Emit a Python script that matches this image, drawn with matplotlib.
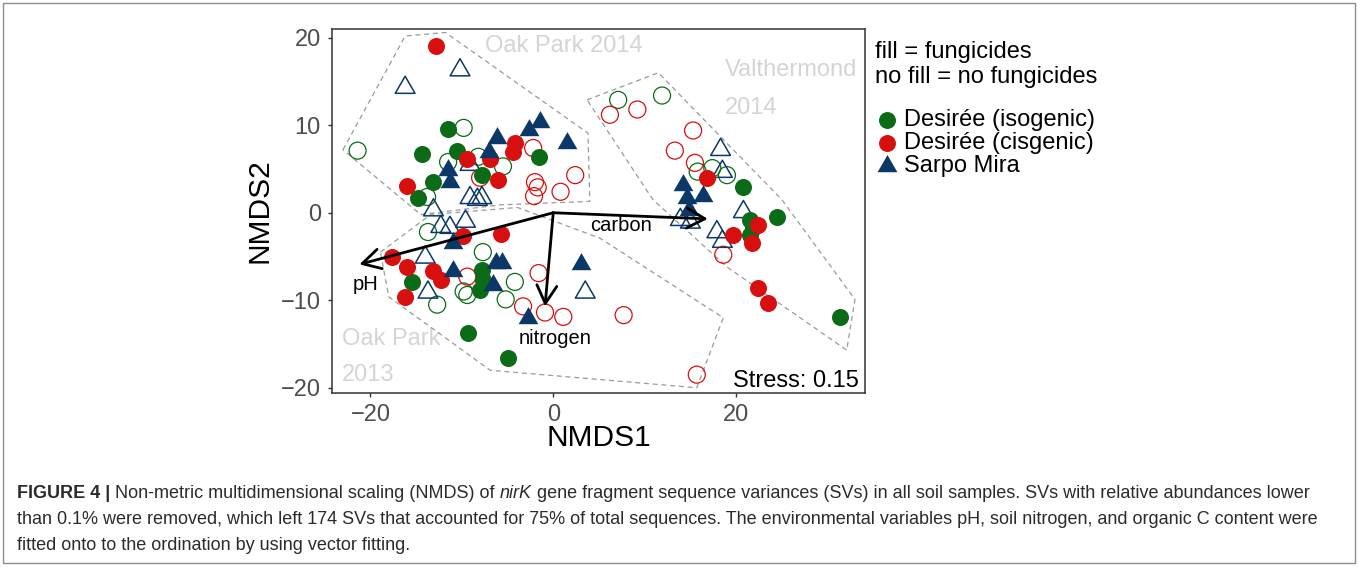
import matplotlib
matplotlib.use("Agg")
import matplotlib.pyplot as plt
from matplotlib import font_manager
from matplotlib.lines import Line2D
from matplotlib.patches import Polygon, Rectangle
from matplotlib.path import Path

# NMDS scores, split by cultivar and by treatment (fill = fungicides)
iso_fill_x = [-11.5, -14.4, -10.5, -13.2, -14.8, -7.8, -1.6, -15.5, -7.8, -7.7, -8.0, -9.3, -5.0,
              20.8, 21.5, 21.9, 21.5, 24.5, 31.4]
iso_fill_y = [9.6, 6.7, 7.1, 3.5, 1.7, 4.3, 6.4, -7.9, -6.5, -7.7, -8.8, -13.7, -16.6,
              2.9, -0.8, -1.7, -2.5, -0.5, -11.9]
iso_open_x = [-21.4, -9.8, -13.8, -11.5, -8.2, -5.5, -13.7, -12.7, -9.8, -9.4, -7.7, -4.2, -5.2,
              7.1, 11.9, 15.8, 17.4, 19.0]
iso_open_y = [7.1, 9.7, 1.8, 5.8, 6.4, 5.3, -2.2, -10.5, -9.0, -9.4, -4.5, -7.9, -9.9,
              12.9, 13.4, 4.7, 5.1, 4.3]

cis_fill_x = [-12.8, -16.0, -9.4, -6.9, -6.0, -4.2, -4.4, -9.9, -5.7, -17.6, -16.0, -16.2, -13.2,
              -12.3, 16.8, 19.7, 22.4, 21.7, 22.4, 23.5]
cis_fill_y = [19.1, 3.1, 6.1, 6.1, 3.8, 8.0, 6.9, -2.6, -2.4, -5.0, -6.2, -9.6, -6.7,
              -7.7, 4.0, -2.5, -1.4, -3.4, -8.6, -10.3]
cis_open_x = [-2.2, -2.0, -1.7, -2.1, 0.8, 2.4, -9.4, -1.6, -3.3, -0.9, 1.1, 7.7, 15.7,
              6.2, 9.2, 15.3, 13.3, 15.5, 18.6, -8.0]
cis_open_y = [7.4, 3.5, 2.9, 1.9, 2.4, 4.3, -7.3, -6.9, -10.7, -11.4, -11.9, -11.7, -18.5,
              11.2, 11.8, 9.4, 7.1, 5.7, -4.8, 4.0]

sarpo_fill_x = [-11.5, -11.3, -6.1, -7.0, -2.7, -1.4, 1.5, -11.0, -11.0, -6.3, -5.6, -6.6, -2.8,
                3.0, 14.2, 14.6, 14.8, 16.4]
sarpo_fill_y = [4.9, 3.5, 8.6, 7.0, 9.5, 10.4, 8.0, -3.4, -6.7, -5.7, -5.7, -8.2, -12.0,
                -5.9, 3.2, 1.7, 0.3, 1.9]
sarpo_open_x = [-10.2, -16.2, -9.1, -9.1, -8.3, -7.8, -13.1, -12.3, -11.3, -9.6, -14.0, -13.7,
                3.5, 18.3, 18.5, 20.8, 13.9, 15.0, 17.9, 18.5]
sarpo_open_y = [16.3, 14.3, 5.5, 1.7, 1.5, 1.7, 0.3, -1.6, -1.7, -1.0, -5.1, -9.1,
                -9.1, 7.2, 4.7, 0.1, -0.8, -1.1, -2.2, -3.3]

group_names = ["Desirée (isogenic)", "Desirée (cisgenic)", "Sarpo Mira"]
group_colors = ["#0b6b16", "#d80f0f", "#0c3868"]

# site hulls
hull_op14 = [(-23.0, 7.2), (-16.2, 20.2), (-11.8, 20.6), (3.8, 9.1), (4.0, 1.3), (-5.8, 0.9), (-14.5, -0.2)]
hull_op13 = [(-18.9, -4.5), (-13.4, -0.2), (-3.9, 0.6), (5.1, -2.9), (18.6, -12.0), (15.7, -20.0),
             (-6.9, -18.0), (-18.0, -9.6)]
hull_val14 = [(3.7, 12.9), (11.5, 16.0), (25.0, 1.5), (33.0, -9.9), (32.1, -15.7), (19.0, -6.2), (10.9, 1.5)]

# fitted environmental vectors
env_names = ["pH", "nitrogen", "carbon"]
env_x = [-21.2, -0.9, 16.9]
env_y = [-5.9, -10.7, -0.7]

stress = 0.15

caption_lines = [
    [("FIGURE 4 |", "bold", "normal"),
     ("Non-metric multidimensional scaling (NMDS) of", "normal", "normal"),
     ("nirK", "normal", "italic"),
     ("gene fragment sequence variances (SVs) in all soil samples. SVs with relative abundances lower",
      "normal", "normal")],
    [("than 0.1% were removed, which left 174 SVs that accounted for 75% of total sequences. "
      "The environmental variables pH, soil nitrogen, and organic C content were", "normal", "normal")],
    [("fitted onto to the ordination by using vector fitting.", "normal", "normal")],
]

plt.rcParams['font.family'] = ['Liberation Sans', 'DejaVu Sans']

W, H = 1358, 567
fig = plt.figure(figsize=(W / 100, H / 100), dpi=100)

def fx(px):
    return px / W

def fy(py):
    return 1 - py / H

ax = fig.add_axes([fx(332), fy(393), fx(865) - fx(332), fy(29) - fy(393)])
ax.set_xlim(-24.2, 34.1)
ax.set_ylim(-20.6, 21.0)

# equilateral triangle like ggplot's shape 17/2
tri = Path([(0, 1), (-0.866, -0.5), (0.866, -0.5), (0, 1)],
           [Path.MOVETO, Path.LINETO, Path.LINETO, Path.CLOSEPOLY])

for hull in [hull_op14, hull_op13, hull_val14]:
    ax.add_patch(Polygon(hull, closed=True, fill=False, ec="#9a9a9a", lw=0.9,
                         ls=(0, (4, 3)), zorder=1))

circ_s = 150
tri_s = 270
ax.scatter(iso_open_x, iso_open_y, s=circ_s, facecolors="none", edgecolors=group_colors[0], linewidths=0.9, zorder=2)
ax.scatter(cis_open_x, cis_open_y, s=circ_s, facecolors="none", edgecolors=group_colors[1], linewidths=0.9, zorder=2)
ax.scatter(sarpo_open_x, sarpo_open_y, s=tri_s, marker=tri, facecolors="none", edgecolors=group_colors[2], linewidths=1.1, zorder=2)
ax.scatter(iso_fill_x, iso_fill_y, s=circ_s, color=group_colors[0], linewidths=0, zorder=3)
ax.scatter(cis_fill_x, cis_fill_y, s=circ_s, color=group_colors[1], linewidths=0, zorder=3)
ax.scatter(sarpo_fill_x, sarpo_fill_y, s=tri_s, marker=tri, color=group_colors[2], linewidths=0, zorder=3)

for name, vx, vy in zip(env_names, env_x, env_y):
    ax.annotate("", xy=(vx, vy), xytext=(0, 0),
                arrowprops=dict(arrowstyle="->,head_length=0.65,head_width=0.36", color="black",
                                lw=2.0, shrinkA=0, shrinkB=0, mutation_scale=20), zorder=4)

ax.text(-20.5, -8.2, env_names[0], fontsize=14.5, ha="center", va="center", zorder=5)
ax.text(0.2, -14.4, env_names[1], fontsize=14.5, ha="center", va="center", zorder=5)
ax.text(7.4, -1.5, env_names[2], fontsize=14.5, ha="center", va="center", zorder=5)

site_col = "#d4d4d4"
ax.text(-7.5, 19.1, "Oak Park 2014", fontsize=17, color=site_col, va="center", zorder=0)
ax.text(18.8, 16.3, "Valthermond", fontsize=17, color=site_col, va="center", zorder=0)
ax.text(18.8, 12.0, "2014", fontsize=17, color=site_col, va="center", zorder=0)
ax.text(-23.1, -14.4, "Oak Park", fontsize=17, color=site_col, va="center", zorder=0)
ax.text(-23.1, -18.5, "2013", fontsize=17, color=site_col, va="center", zorder=0)

ax.text(33.4, -19.2, f"Stress: {stress}", fontsize=17, ha="right", va="center", zorder=5)

ax.set_xticks([-20, 0, 20])
ax.set_yticks([-20, -10, 0, 10, 20])
ax.set_xticklabels(["\u221220", "0", "20"])
ax.set_yticklabels(["\u221220", "\u221210", "0", "10", "20"])
ax.tick_params(labelsize=17, labelcolor="#4d4d4d", color="#333333", length=3, width=1, pad=5)
for sp in ax.spines.values():
    sp.set_color("#333333")
    sp.set_linewidth(1.1)

ax.set_xlabel("NMDS1", fontsize=21.5)
ax.set_ylabel("NMDS2", fontsize=21.5)
ax.xaxis.set_label_coords(0.5, (393 - 438) / 364)
ax.xaxis.label.set_va("center")
ax.yaxis.set_label_coords((260 - 332) / 533, 0.5)
ax.yaxis.label.set_va("center")

# legend to the right of the panel
fig.text(fx(875), fy(52), "fill = fungicides", fontsize=17, va="center")
fig.text(fx(875), fy(77), "no fill = no fungicides", fontsize=17, va="center")
legend_rows = [120, 143, 166]
legend_markers = ["o", "o", tri]
for name, col, mk, row in zip(group_names, group_colors, legend_markers, legend_rows):
    ms = 12.2 if mk == "o" else 16.5
    fig.add_artist(Line2D([fx(887)], [fy(row)], transform=fig.transFigure, marker=mk, ms=ms,
                          color=col, mew=0, ls=""))
    fig.text(fx(904), fy(row), name, fontsize=17, va="center")

# caption, pieces placed side by side with measured widths
names = {f.name for f in font_manager.fontManager.ttflist}
cap_family = "Liberation Sans Narrow" if "Liberation Sans Narrow" in names else "Liberation Sans"
renderer = fig.canvas.get_renderer()

def width_of(s, size, weight="normal", style="normal"):
    t = fig.text(0, 0, s, fontsize=size, family=cap_family, weight=weight, style=style)
    w = t.get_window_extent(renderer).width
    t.remove()
    return w

def line_width(pieces, size):
    space = width_of("a a", size) - width_of("aa", size)
    return sum(width_of(s, size, wt, st) for s, wt, st in pieces) + space * (len(pieces) - 1)

base = 10.0
cap_size = base * (1310 - 17) / line_width(caption_lines[0], base)
space_w = width_of("a a", cap_size) - width_of("aa", cap_size)
cap_rows = [494, 520, 546]
for pieces, row in zip(caption_lines, cap_rows):
    x = 17
    for s, wt, st in pieces:
        t = fig.text(fx(x), fy(row), s, fontsize=cap_size, family=cap_family, weight=wt,
                     style=st, va="center", color="#2b2b2b")
        x += t.get_window_extent(renderer).width + space_w

fig.add_artist(Rectangle((fx(3), fy(563)), fx(1355) - fx(3), fy(3) - fy(563),
                         transform=fig.transFigure, fill=False, ec="#8c8c8c", lw=1))

fig.savefig("out.png", dpi=100)
